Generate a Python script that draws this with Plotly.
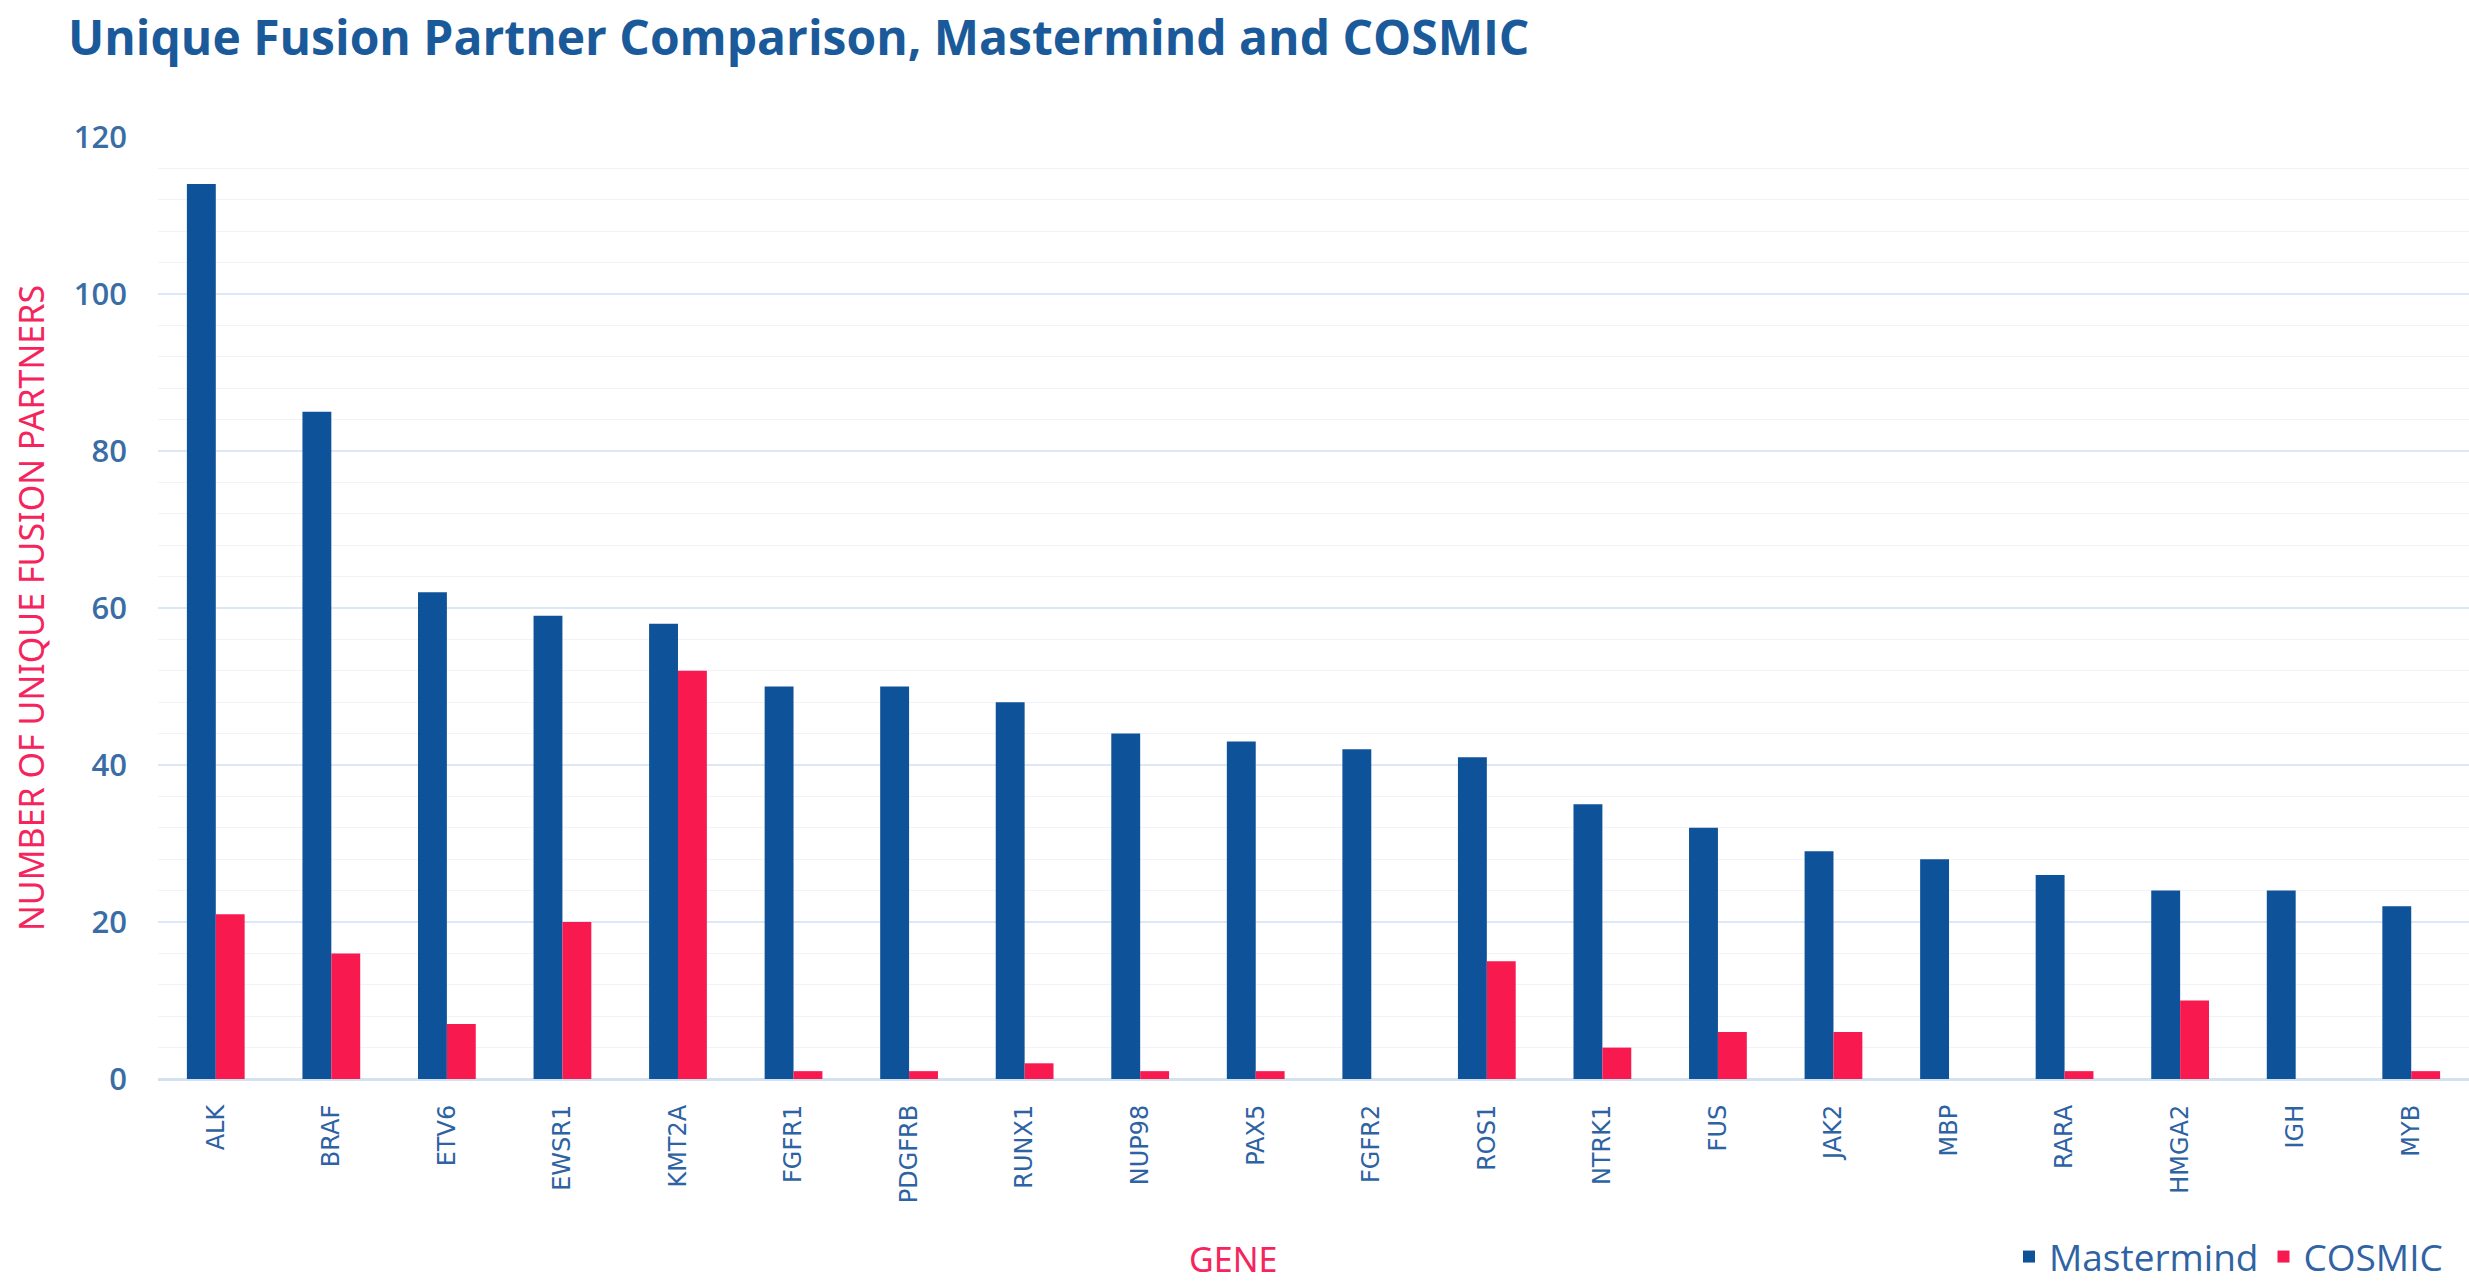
import plotly.graph_objects as go

genes = ["ALK", "BRAF", "ETV6", "EWSR1", "KMT2A", "FGFR1", "PDGFRB", "RUNX1", "NUP98", "PAX5",
         "FGFR2", "ROS1", "NTRK1", "FUS", "JAK2", "MBP", "RARA", "HMGA2", "IGH", "MYB"]
mastermind = [114, 85, 62, 59, 58, 50, 50, 48, 44, 43, 42, 41, 35, 32, 29, 28, 26, 24, 24, 22]
cosmic = [21, 16, 7, 20, 52, 1, 1, 2, 1, 1, 0, 15, 4, 6, 6, 0, 1, 10, 0, 1]
y_ticks = [0, 20, 40, 60, 80, 100, 120]

W, H = 2469, 1285
L, R, T, B = 158, 0, 137, 206
PW, PH = W - L - R, H - T - B

BLUE = "#0E5299"
PINK = "#F8194F"
TITLE = "#1A5A9A"
TICK = "#3A6DA5"
XTICK = "#2D62A3"
AXPINK = "#F5245C"


def px_x(p):
    return (p - L) / PW


def px_y(p):
    return (H - B - p) / PH


fig = go.Figure()
fig.add_bar(x=genes, y=mastermind, name="Mastermind", marker=dict(color=BLUE, line=dict(width=0)))
fig.add_bar(x=genes, y=cosmic, name="COSMIC", marker=dict(color=PINK, line=dict(width=0)))

fig.update_layout(
    width=W, height=H,
    margin=dict(l=L, r=R, t=T, b=B, autoexpand=False),
    barmode="group", bargap=0.5, bargroupgap=0,
    plot_bgcolor="white", paper_bgcolor="white",
    title=dict(text="Unique Fusion Partner Comparison, Mastermind and COSMIC",
               xref="container", x=68 / W, xanchor="left",
               yref="container", y=1 - 38 / H, yanchor="middle",
               font=dict(family="Open Sans", size=48, weight=700, color=TITLE)),
    legend=dict(orientation="h", xref="container", x=2448 / W, xanchor="right",
                yref="container", y=1 - 1257 / H, yanchor="middle",
                font=dict(family="Open Sans", size=37, color="#2F63A3"),
                itemwidth=30, bgcolor="rgba(0,0,0,0)", traceorder="normal"),
    xaxis=dict(tickangle=-90, showgrid=False, showline=False, ticks="",
               tickfont=dict(family="DejaVu Sans", size=24, color=XTICK),
               ticklabelstandoff=20, range=[-0.5, 19.5]),
    yaxis=dict(range=[0, 120], tickvals=y_ticks, showgrid=True, gridcolor="#DCE8F6", gridwidth=2,
               zeroline=True, zerolinecolor="#D3E2F3", zerolinewidth=3,
               showline=False, ticks="",
               tickfont=dict(family="Open Sans", size=31, weight=600, color=TICK),
               ticklabelstandoff=30,
               minor=dict(dtick=4, showgrid=True, gridcolor="#F0F4FA", gridwidth=1)),
    annotations=[
        dict(text="NUMBER OF UNIQUE FUSION PARTNERS", xref="paper", yref="paper",
             x=px_x(31), y=0.5, textangle=-90, showarrow=False, xanchor="center", yanchor="middle",
             font=dict(family="Noto Sans", size=34, color=AXPINK)),
        dict(text="GENE", xref="paper", yref="paper", x=px_x(1233), y=px_y(1259),
             showarrow=False, xanchor="center", yanchor="middle",
             font=dict(family="Noto Sans", size=34, color=AXPINK)),
    ],
)

fig.write_html("out.html", config={"displayModeBar": False},
               post_script="document.body.style.margin='0';")
